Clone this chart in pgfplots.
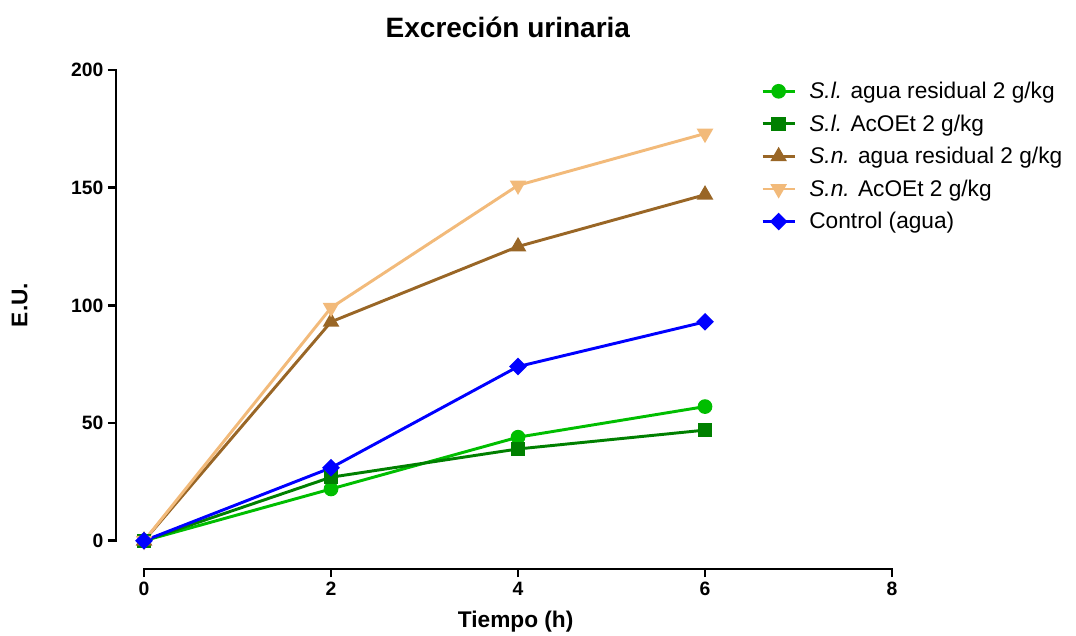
\documentclass[border=0pt]{standalone}
\usepackage{fontspec}
\setmainfont{Liberation Sans}
\usepackage{pgfplots}
\pgfplotsset{compat=1.18}

\definecolor{cGreen}{RGB}{0,190,0}
\definecolor{cDark}{RGB}{0,128,0}
\definecolor{cBrown}{RGB}{153,102,38}
\definecolor{cTan}{RGB}{242,186,122}
\definecolor{cBlue}{RGB}{0,0,255}

\begin{document}
\begin{tikzpicture}
\begin{axis}[
  at={(0,0)}, anchor=south west,
  scale only axis, width=582pt, height=374.25pt,
  xmin=-0.3, xmax=8, ymin=-12, ymax=200,
  clip=false,
  axis x line*=left, axis y line*=left,
  axis line style={draw=none},
  xtick={0,2,4,6,8}, ytick={0,50,100,150,200},
  tick align=outside, major tick length=6pt,
  tick style={black, line width=2.1pt},
  /pgf/number format/assume math mode=true,
  ticklabel style={font=\bfseries\fontsize{14.5}{16}\selectfont},
  title={Excreción urinaria},
  title style={font=\bfseries\fontsize{21}{24}\selectfont, at={(axis description cs:0.505,1.07)}, anchor=center},
  xlabel={Tiempo (h)},
  xlabel style={font=\bfseries\fontsize{17}{19}\selectfont, at={(axis description cs:0.515,-0.106)}, anchor=center},
  ylabel={E.U.},
  ylabel style={font=\bfseries\fontsize{17}{19}\selectfont, at={(axis description cs:-0.124,0.529)}, anchor=center},
  every axis plot/.append style={line width=2.2pt},
  legend cell align=left,
  legend style={draw=none, fill=none, at={(axis description cs:0.826,0.987)}, anchor=north west,
    font=\fontsize{17}{20}\selectfont, row sep=6.6pt, column sep=8pt},
  legend image code/.code={\draw[mark repeat=2,mark phase=2] plot coordinates {(0cm,0cm)(0.42cm,0cm)(0.84cm,0cm)};},
]
\addplot[cGreen, mark=*, mark size=4.4pt] coordinates {(0,0) (2,22) (4,44) (6,57)};
\addlegendentry{\textit{S.l.} agua residual 2 g/kg}
\addplot[cDark, mark=square*, mark size=4.3pt] coordinates {(0,0) (2,27) (4,39) (6,47)};
\addlegendentry{\textit{S.l.} AcOEt 2 g/kg}
\addplot[cBrown, mark=triangle*, mark size=5pt] coordinates {(0,0) (2,93) (4,125) (6,147)};
\addlegendentry{\textit{S.n.} agua residual 2 g/kg}
\addplot[cTan, mark=triangle*, mark options={rotate=180}, mark size=5pt] coordinates {(0,0) (2,99) (4,151) (6,173)};
\addlegendentry{\textit{S.n.} AcOEt 2 g/kg}
\addplot[cBlue, mark=square*, mark options={rotate=45}, mark size=3.6pt] coordinates {(0,0) (2,31) (4,74) (6,93)};
\addlegendentry{Control (agua)}
\draw[black, line width=2.1pt, line cap=rect] (axis cs:-0.3,0) -- (axis cs:-0.3,200);
\draw[black, line width=2.1pt, line cap=rect] (axis cs:0,-12) -- (axis cs:8,-12);
\end{axis}
\pgfresetboundingbox
\path[use as bounding box] (-87pt,-50.25pt) rectangle (720pt,426.75pt);
\end{tikzpicture}
\end{document}
